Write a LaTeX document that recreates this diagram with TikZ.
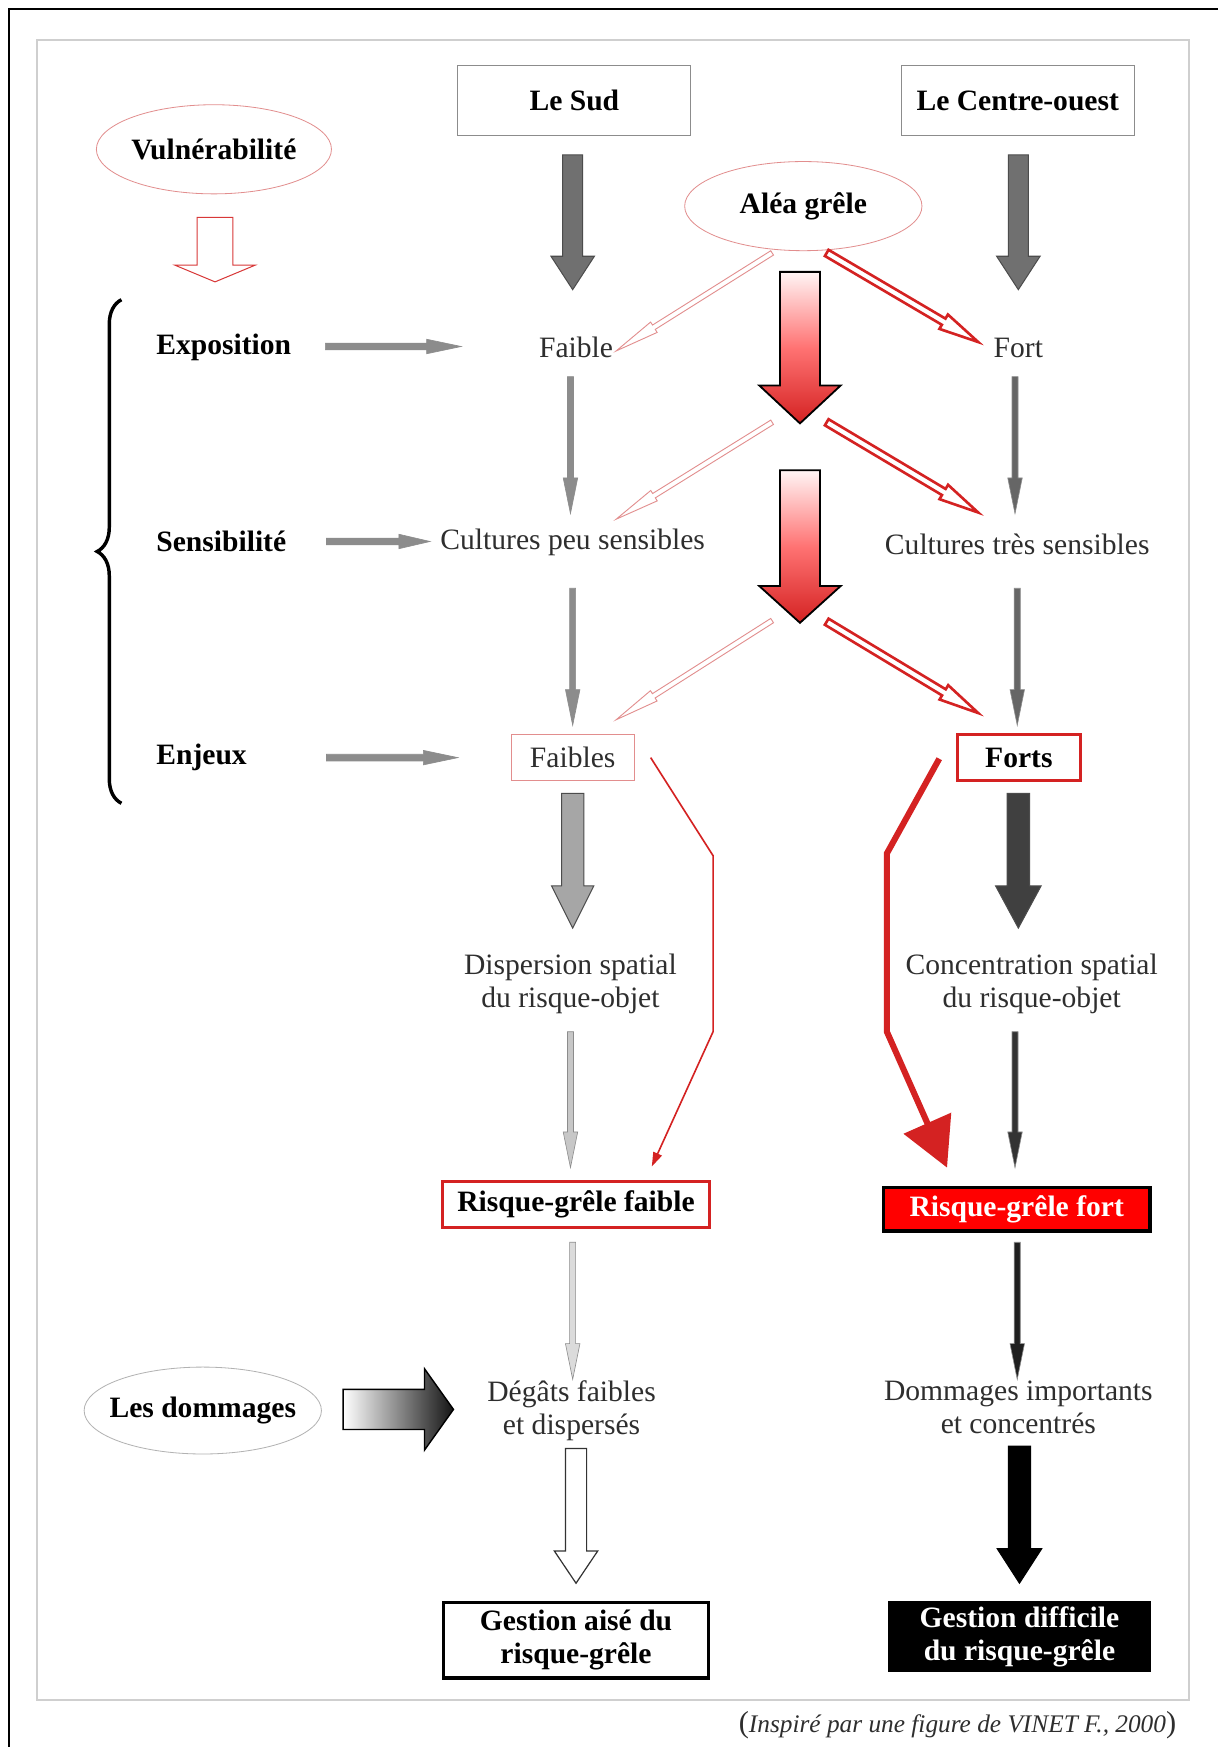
\documentclass[tikz,border=0pt]{standalone}
\usepackage{fontspec}
\setmainfont{Liberation Serif}
\usetikzlibrary{arrows.meta,decorations.pathreplacing,shapes.geometric}
\definecolor{redA}{HTML}{D42222}
\definecolor{pinkA}{HTML}{E28E8E}
\definecolor{frameg}{HTML}{CFCFCF}
\definecolor{txtg}{HTML}{2E2E2E}
% vertical block arrow: style, x, ytop, yhead, ytip, shaft half, head half
\newcommand\varr[7]{%
  \path[#1] (#2-#6,#3) -- (#2+#6,#3) -- (#2+#6,#4) -- (#2+#7,#4) -- (#2,#5)
    -- (#2-#7,#4) -- (#2-#6,#4) -- cycle;}
% horizontal block arrow: style, y, xstart, xhead, xtip, shaft half, head half
\newcommand\harr[7]{%
  \path[#1] (#3,#2-#6) -- (#4,#2-#6) -- (#4,#2-#7) -- (#5,#2) -- (#4,#2+#7)
    -- (#4,#2+#6) -- (#3,#2+#6) -- cycle;}
% diagonal hollow arrow: style, x1, y1, x2, y2, shaft half, head half, head length
\newcommand\diagarr[8]{%
  \pgfmathsetmacro\dang{atan2(#5-#3,#4-#2)}%
  \pgfmathsetmacro\dlen{veclen(#4-#2,#5-#3)}%
  \pgfmathsetmacro\dbase{\dlen-#8}%
  \path[#1, shift={(#2,#3)}, rotate=-\dang] (0,-#6) -- (\dbase,-#6) -- (\dbase,-#7)
    -- (\dlen,0) -- (\dbase,#7) -- (\dbase,#6) -- (0,#6) -- cycle;}
\begin{document}
\begin{tikzpicture}[x=0.55pt,y=-0.55pt,
  txt/.style={align=center, inner sep=0pt, text=txtg, font=\fontsize{14.6}{16.5}\selectfont},
  btxt/.style={align=center, inner sep=0pt, text=black, font=\fontsize{14.6}{16.5}\selectfont\bfseries},
  ovalline/.style={draw=pinkA, line width=0.4pt},
  bigarrow/.style={fill=#1, draw=black!70, line width=0.5pt},
  thinarr/.style={fill=#1, draw=black!45, line width=0.3pt},
  redarr/.style={draw=redA, line width=1.3pt, fill=white},
  pinkarr/.style={draw=pinkA, line width=0.45pt, fill=white},
  redgrad/.style={top color=red!4, bottom color=redA, middle color=red!55!white, draw=black, line width=0.9pt}
]
\useasboundingbox (0,0) rectangle (1093,1568);
\fill[white] (0,0) rectangle (1093,1568);
% frames
\draw[line width=1.1pt] (8,1568) -- (8,8) -- (1093,8);
\draw[frameg, line width=0.8pt] (33,36) rectangle (1067,1526);

% top nodes
\node[btxt] (vul) at (192,134) {Vulnérabilité};
\draw[ovalline] (vul.center) ellipse [x radius=105.5, y radius=40];
\node[btxt, draw=black!45, line width=0.5pt, minimum width=115pt, minimum height=34.7pt] (sud) at (515.5,90.5) {Le Sud};
\node[btxt, draw=black!45, line width=0.5pt, minimum width=115pt, minimum height=34.7pt] (centre) at (913.5,90.5) {Le Centre-ouest};
\node[btxt] (alea) at (721,185) {Aléa grêle};
\draw[ovalline] (alea.center) ellipse [x radius=106.5, y radius=40];

% Vulnérabilité arrow
\varr{draw=redA!90, line width=0.5pt, fill=white}{193}{195}{238}{253}{16}{36}

% row labels
\node[btxt, anchor=west] (expo) at (140,312) {Exposition};
\node[btxt, anchor=west] (sens) at (140,486) {Sensibilité};
\node[btxt, anchor=west] (enj) at (140,680) {Enjeux};
\draw[line width=1.7pt, decorate, decoration={brace, amplitude=12pt}] (109,721) -- (109,269);
\harr{thinarr=black!45}{311}{292}{383}{414}{3}{6.5}
\harr{thinarr=black!45}{486}{293}{358}{386}{3}{6.5}
\harr{thinarr=black!45}{680}{293}{380}{411}{3}{6.5}

% Sud / Centre big arrows
\varr{bigarrow=black!56}{514}{139}{230}{260}{9}{19.5}
\varr{bigarrow=black!56}{914}{139}{230}{260}{9}{19.5}

% middle text nodes
\node[txt] (faible) at (517,312) {Faible};
\node[txt] (fort) at (914,312) {Fort};
\node[txt] (cpeu) at (514,487) {Cultures peu sensibles};
\node[txt] (ctres) at (913,489) {Cultures très sensibles};
\node[txt, draw=pinkA, line width=0.4pt, minimum width=60.5pt, minimum height=22.5pt] (faibles) at (514,680) {Faibles};
\node[btxt, draw=redA, line width=1.5pt, minimum width=61pt, minimum height=23pt] (forts) at (914.5,680) {Forts};

% thin vertical arrows
\varr{thinarr=black!45}{512}{338}{429}{461}{2.7}{6.5}
\varr{thinarr=black!45}{514}{528}{619}{651}{2.7}{6.5}
\varr{thinarr=black!60}{911}{338}{429}{461}{2.7}{6.5}
\varr{thinarr=black!60}{913}{528}{619}{651}{2.7}{6.5}

% red gradient arrows
\varr{redgrad}{718}{244}{346}{380}{18}{36.5}
\varr{redgrad}{718}{422}{526}{559}{18}{36.5}

% diagonal hollow arrows
\diagarr{redarr}{742}{227}{878}{307}{3.2}{7.5}{36}
\diagarr{redarr}{742}{379}{878}{460}{3.2}{7.5}{36}
\diagarr{redarr}{742}{558}{878}{640}{3.2}{7.5}{36}
\diagarr{pinkarr}{693}{227}{553}{315}{2.3}{5.5}{40}
\diagarr{pinkarr}{693}{379}{553}{466}{2.3}{5.5}{40}
\diagarr{pinkarr}{693}{557}{553}{646}{2.3}{5.5}{40}

% fat arrows below Faibles / Forts
\varr{bigarrow=black!35}{514}{712}{795}{833}{10}{19}
\varr{bigarrow=black!75}{914}{712}{795}{833}{10}{20.5}

\node[txt] (disp) at (512,883) {Dispersion spatial\\du risque-objet};
\node[txt] (conc) at (926,883) {Concentration spatial\\du risque-objet};

\varr{thinarr=black!22}{512}{926}{1016}{1048}{2.7}{6.5}
\varr{thinarr=black!80}{911}{926}{1016}{1048}{2.7}{6.5}

% red routed lines
\coordinate (fa1) at (584,680);
\coordinate (fa2) at (640,768);
\coordinate (fa3) at (640,926);
\coordinate (fa4) at (585,1047);
\draw[redA, line width=0.8pt, -{Triangle[length=7pt,width=4.5pt]}] (fa1) -- (fa2) -- (fa3) -- (fa4);
\coordinate (fo1) at (843,681);
\coordinate (fo2) at (796,766);
\coordinate (fo3) at (796,926);
\coordinate (fo4) at (850,1048);
\draw[redA, line width=3pt, line join=miter, -{Triangle[length=24pt,width=25pt]}] (fo1) -- (fo2) -- (fo3) -- (fo4);

% risque boxes
\node[btxt, draw=redA, line width=1.5pt, minimum width=132pt, minimum height=22.5pt] (rfaible) at (517,1081) {Risque-grêle faible};
\node[btxt, text=white, fill=red, draw=black, line width=1.7pt, minimum width=131.5pt, minimum height=21.5pt] (rfort) at (912.5,1085.5) {Risque-grêle fort};

\varr{thinarr=black!14}{514}{1115}{1206}{1238}{2.7}{6.5}
\varr{thinarr=black!88}{913}{1115}{1206}{1238}{2.7}{6.5}

% dommages
\node[btxt] (dom) at (182,1266) {Les dommages};
\draw[draw=black!30, line width=0.4pt] (dom.center) ellipse [x radius=106.5, y radius=39];
\harr{left color=white, right color=black!92, draw=black, line width=0.7pt}{1265}{308}{381}{407}{18}{36.5}
\node[txt] (degats) at (513,1266) {Dégâts faibles\\et dispersés};
\node[txt] (dimp) at (914,1263) {Dommages importants\\et concentrés};

\varr{fill=white, draw=black!80, line width=0.6pt}{517}{1300}{1392}{1421}{9.5}{19.5}
\varr{fill=black, draw=black, line width=0.5pt}{915}{1298}{1390}{1421}{10}{20}

\node[btxt, draw=black, line width=1.6pt, minimum width=131pt, minimum height=37.4pt] (gaise) at (517,1472) {Gestion aisé du\\risque-grêle};
\node[btxt, text=white, fill=black, minimum width=130pt, minimum height=35pt] (gdiff) at (915,1469) {Gestion difficile\\du risque-grêle};

\node[inner sep=0pt, anchor=east, text=txtg, font=\fontsize{12.5}{14}\selectfont] (cap) at (1056,1548) {{\fontsize{15}{15}\selectfont(}\textit{Inspiré par une figure de VINET F., 2000}{\fontsize{15}{15}\selectfont)}};
\end{tikzpicture}
\end{document}
